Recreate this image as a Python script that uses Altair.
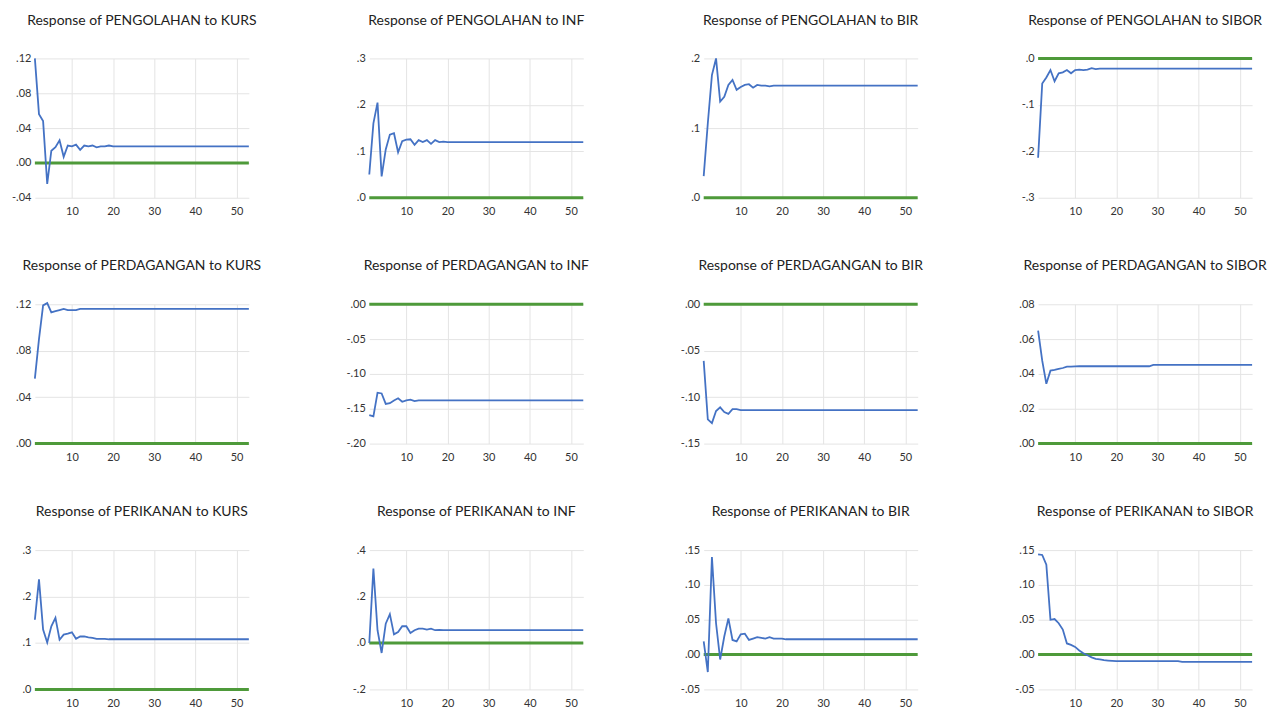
import altair as alt
import pandas as pd

periods = list(range(1, 54))
x_ticks = [10, 20, 30, 40, 50]

pengolahan_kurs = [
    0.120, 0.056, 0.048, -0.024, 0.014, 0.018, 0.026, 0.007, 0.020, 0.019,
    0.021, 0.015, 0.020, 0.019, 0.020, 0.018, 0.019, 0.019, 0.020, 0.019,
    0.019, 0.019, 0.019, 0.019, 0.019, 0.019, 0.019, 0.019, 0.019, 0.019,
    0.019, 0.019, 0.019, 0.019, 0.019, 0.019, 0.019, 0.019, 0.019, 0.019,
    0.019, 0.019, 0.019, 0.019, 0.019, 0.019, 0.019, 0.019, 0.019, 0.019,
    0.019, 0.019, 0.019]
pengolahan_inf = [
    0.050, 0.160, 0.205, 0.046, 0.104, 0.136, 0.139, 0.098, 0.122, 0.125,
    0.126, 0.114, 0.124, 0.120, 0.124, 0.116, 0.124, 0.120, 0.121, 0.120,
    0.120, 0.120, 0.120, 0.120, 0.120, 0.120, 0.120, 0.120, 0.120, 0.120,
    0.120, 0.120, 0.120, 0.120, 0.120, 0.120, 0.120, 0.120, 0.120, 0.120,
    0.120, 0.120, 0.120, 0.120, 0.120, 0.120, 0.120, 0.120, 0.120, 0.120,
    0.120, 0.120, 0.120]
pengolahan_bir = [
    0.031, 0.107, 0.176, 0.200, 0.138, 0.145, 0.162, 0.169, 0.155, 0.159,
    0.162, 0.163, 0.158, 0.162, 0.161, 0.161, 0.160, 0.161, 0.161, 0.161,
    0.161, 0.161, 0.161, 0.161, 0.161, 0.161, 0.161, 0.161, 0.161, 0.161,
    0.161, 0.161, 0.161, 0.161, 0.161, 0.161, 0.161, 0.161, 0.161, 0.161,
    0.161, 0.161, 0.161, 0.161, 0.161, 0.161, 0.161, 0.161, 0.161, 0.161,
    0.161, 0.161, 0.161]
pengolahan_sibor = [
    -0.214, -0.054, -0.041, -0.025, -0.049, -0.032, -0.030, -0.025, -0.032, -0.025,
    -0.024, -0.025, -0.024, -0.021, -0.023, -0.022, -0.022, -0.022, -0.022, -0.022,
    -0.022, -0.022, -0.022, -0.022, -0.022, -0.022, -0.022, -0.022, -0.022, -0.022,
    -0.022, -0.022, -0.022, -0.022, -0.022, -0.022, -0.022, -0.022, -0.022, -0.022,
    -0.022, -0.022, -0.022, -0.022, -0.022, -0.022, -0.022, -0.022, -0.022, -0.022,
    -0.022, -0.022, -0.022]
perdagangan_kurs = [
    0.056, 0.090, 0.119, 0.121, 0.113, 0.114, 0.115, 0.116, 0.115, 0.115,
    0.115, 0.116, 0.116, 0.116, 0.116, 0.116, 0.116, 0.116, 0.116, 0.116,
    0.116, 0.116, 0.116, 0.116, 0.116, 0.116, 0.116, 0.116, 0.116, 0.116,
    0.116, 0.116, 0.116, 0.116, 0.116, 0.116, 0.116, 0.116, 0.116, 0.116,
    0.116, 0.116, 0.116, 0.116, 0.116, 0.116, 0.116, 0.116, 0.116, 0.116,
    0.116, 0.116, 0.116]
perdagangan_inf = [
    -0.159, -0.161, -0.127, -0.128, -0.143, -0.142, -0.138, -0.135, -0.140, -0.138,
    -0.137, -0.139, -0.138, -0.138, -0.138, -0.138, -0.138, -0.138, -0.138, -0.138,
    -0.138, -0.138, -0.138, -0.138, -0.138, -0.138, -0.138, -0.138, -0.138, -0.138,
    -0.138, -0.138, -0.138, -0.138, -0.138, -0.138, -0.138, -0.138, -0.138, -0.138,
    -0.138, -0.138, -0.138, -0.138, -0.138, -0.138, -0.138, -0.138, -0.138, -0.138,
    -0.138, -0.138, -0.138]
perdagangan_bir = [
    -0.061, -0.124, -0.128, -0.115, -0.111, -0.116, -0.118, -0.113, -0.113, -0.114,
    -0.114, -0.114, -0.114, -0.114, -0.114, -0.114, -0.114, -0.114, -0.114, -0.114,
    -0.114, -0.114, -0.114, -0.114, -0.114, -0.114, -0.114, -0.114, -0.114, -0.114,
    -0.114, -0.114, -0.114, -0.114, -0.114, -0.114, -0.114, -0.114, -0.114, -0.114,
    -0.114, -0.114, -0.114, -0.114, -0.114, -0.114, -0.114, -0.114, -0.114, -0.114,
    -0.114, -0.114, -0.114]
perdagangan_sibor = [
    0.0648, 0.0476, 0.0343, 0.0419, 0.0423, 0.0429, 0.0434, 0.0442, 0.0442, 0.0443,
    0.0444, 0.0444, 0.0444, 0.0444, 0.0444, 0.0444, 0.0444, 0.0444, 0.0444, 0.0444,
    0.0444, 0.0444, 0.0444, 0.0444, 0.0444, 0.0444, 0.0444, 0.0444, 0.0452, 0.0452,
    0.0452, 0.0452, 0.0452, 0.0452, 0.0452, 0.0452, 0.0452, 0.0452, 0.0452, 0.0452,
    0.0452, 0.0452, 0.0452, 0.0452, 0.0452, 0.0452, 0.0452, 0.0452, 0.0452, 0.0452,
    0.0452, 0.0452, 0.0452]
perikanan_kurs = [
    0.150, 0.237, 0.129, 0.101, 0.136, 0.154, 0.107, 0.118, 0.120, 0.123,
    0.109, 0.114, 0.114, 0.112, 0.111, 0.109, 0.109, 0.109, 0.108, 0.108,
    0.108, 0.108, 0.108, 0.108, 0.108, 0.108, 0.108, 0.108, 0.108, 0.108,
    0.108, 0.108, 0.108, 0.108, 0.108, 0.108, 0.108, 0.108, 0.108, 0.108,
    0.108, 0.108, 0.108, 0.108, 0.108, 0.108, 0.108, 0.108, 0.108, 0.108,
    0.108, 0.108, 0.108]
perikanan_inf = [
    0.000, 0.321, 0.055, -0.043, 0.083, 0.124, 0.037, 0.047, 0.072, 0.072,
    0.043, 0.055, 0.062, 0.062, 0.058, 0.062, 0.055, 0.056, 0.055, 0.055,
    0.055, 0.055, 0.055, 0.055, 0.055, 0.055, 0.055, 0.055, 0.055, 0.055,
    0.055, 0.055, 0.055, 0.055, 0.055, 0.055, 0.055, 0.055, 0.055, 0.055,
    0.055, 0.055, 0.055, 0.055, 0.055, 0.055, 0.055, 0.055, 0.055, 0.055,
    0.055, 0.055, 0.055]
perikanan_bir = [
    0.019, -0.025, 0.140, 0.045, -0.007, 0.026, 0.052, 0.021, 0.019, 0.029,
    0.030, 0.021, 0.023, 0.025, 0.024, 0.023, 0.025, 0.023, 0.023, 0.023,
    0.022, 0.022, 0.022, 0.022, 0.022, 0.022, 0.022, 0.022, 0.022, 0.022,
    0.022, 0.022, 0.022, 0.022, 0.022, 0.022, 0.022, 0.022, 0.022, 0.022,
    0.022, 0.022, 0.022, 0.022, 0.022, 0.022, 0.022, 0.022, 0.022, 0.022,
    0.022, 0.022, 0.022]
perikanan_sibor = [
    0.144, 0.143, 0.129, 0.050, 0.051, 0.045, 0.036, 0.016, 0.014, 0.011,
    0.006, 0.002, -0.001, -0.004, -0.006, -0.007, -0.008, -0.0085, -0.009, -0.0095,
    -0.0095, -0.0095, -0.0095, -0.0095, -0.0095, -0.0095, -0.0095, -0.0095, -0.0095, -0.0095,
    -0.0095, -0.0095, -0.0095, -0.0095, -0.0095, -0.0105, -0.0105, -0.0105, -0.0105, -0.0105,
    -0.0105, -0.0105, -0.0105, -0.0105, -0.0105, -0.0105, -0.0105, -0.0105, -0.0105, -0.0105,
    -0.0105, -0.0105, -0.0105]

titles = [
    "Response of PENGOLAHAN to KURS", "Response of PENGOLAHAN to INF",
    "Response of PENGOLAHAN to BIR", "Response of PENGOLAHAN to SIBOR",
    "Response of PERDAGANGAN to KURS", "Response of PERDAGANGAN to INF",
    "Response of PERDAGANGAN to BIR", "Response of PERDAGANGAN to SIBOR",
    "Response of PERIKANAN to KURS", "Response of PERIKANAN to INF",
    "Response of PERIKANAN to BIR", "Response of PERIKANAN to SIBOR",
]
series = [
    pengolahan_kurs, pengolahan_inf, pengolahan_bir, pengolahan_sibor,
    perdagangan_kurs, perdagangan_inf, perdagangan_bir, perdagangan_sibor,
    perikanan_kurs, perikanan_inf, perikanan_bir, perikanan_sibor,
]
y_ticks = [
    [-0.04, 0.0, 0.04, 0.08, 0.12], [0.0, 0.1, 0.2, 0.3],
    [0.0, 0.1, 0.2], [-0.3, -0.2, -0.1, 0.0],
    [0.0, 0.04, 0.08, 0.12], [-0.2, -0.15, -0.1, -0.05, 0.0],
    [-0.15, -0.1, -0.05, 0.0], [0.0, 0.02, 0.04, 0.06, 0.08],
    [0.0, 0.1, 0.2, 0.3], [-0.2, 0.0, 0.2, 0.4],
    [-0.05, 0.0, 0.05, 0.1, 0.15], [-0.05, 0.0, 0.05, 0.1, 0.15],
]
decimals = [2, 1, 1, 1, 2, 2, 2, 2, 1, 1, 2, 2]

BLUE = "#4472C4"
GREEN = "#4E9A3A"


def make_panel(title, values, ticks, dec):
    df = pd.DataFrame({"period": periods, "response": values})
    zero_df = pd.DataFrame({"response": [0.0]})
    fmt = ("replace(replace(format(datum.value, '.%df'), '0.', '.'), '\u2212', '-')" % dec)
    yscale = alt.Scale(domain=[min(ticks), max(ticks)], nice=False, zero=False)
    yaxis = alt.Axis(values=ticks, title=None, labelExpr=fmt, labelPadding=4)
    xenc = alt.X("period:Q", scale=alt.Scale(domain=[1, 53], nice=False, zero=False),
                 axis=alt.Axis(values=x_ticks, title=None, labelPadding=8))
    zero = alt.Chart(zero_df).mark_rule(color=GREEN, strokeWidth=3).encode(
        y=alt.Y("response:Q", scale=yscale, axis=yaxis))
    line = alt.Chart(df).mark_line(color=BLUE, strokeWidth=1.8).encode(
        x=xenc, y=alt.Y("response:Q", scale=yscale, axis=yaxis))
    return alt.layer(zero, line).properties(
        width=215, height=140, title=alt.TitleParams(title))


charts = [make_panel(t, s, tk, d) for t, s, tk, d in zip(titles, series, y_ticks, decimals)]

chart = alt.concat(
    *charts, columns=4, spacing={"row": 107, "column": 121}, bounds="flush"
).properties(
    padding={"left": 3, "top": 4, "right": 5, "bottom": 0}
).configure_view(stroke=None).configure_axis(
    domain=False, ticks=False, labelFont="Lato", labelFontSize=11,
    labelColor="#333333", gridColor="#e4e4e4", gridWidth=1
).configure_title(
    font="Lato", fontSize=14, fontWeight="normal", color="#222222", offset=25,
    anchor="middle"
)

chart.save("out.html", embed_options={"renderer": "svg", "actions": False})
